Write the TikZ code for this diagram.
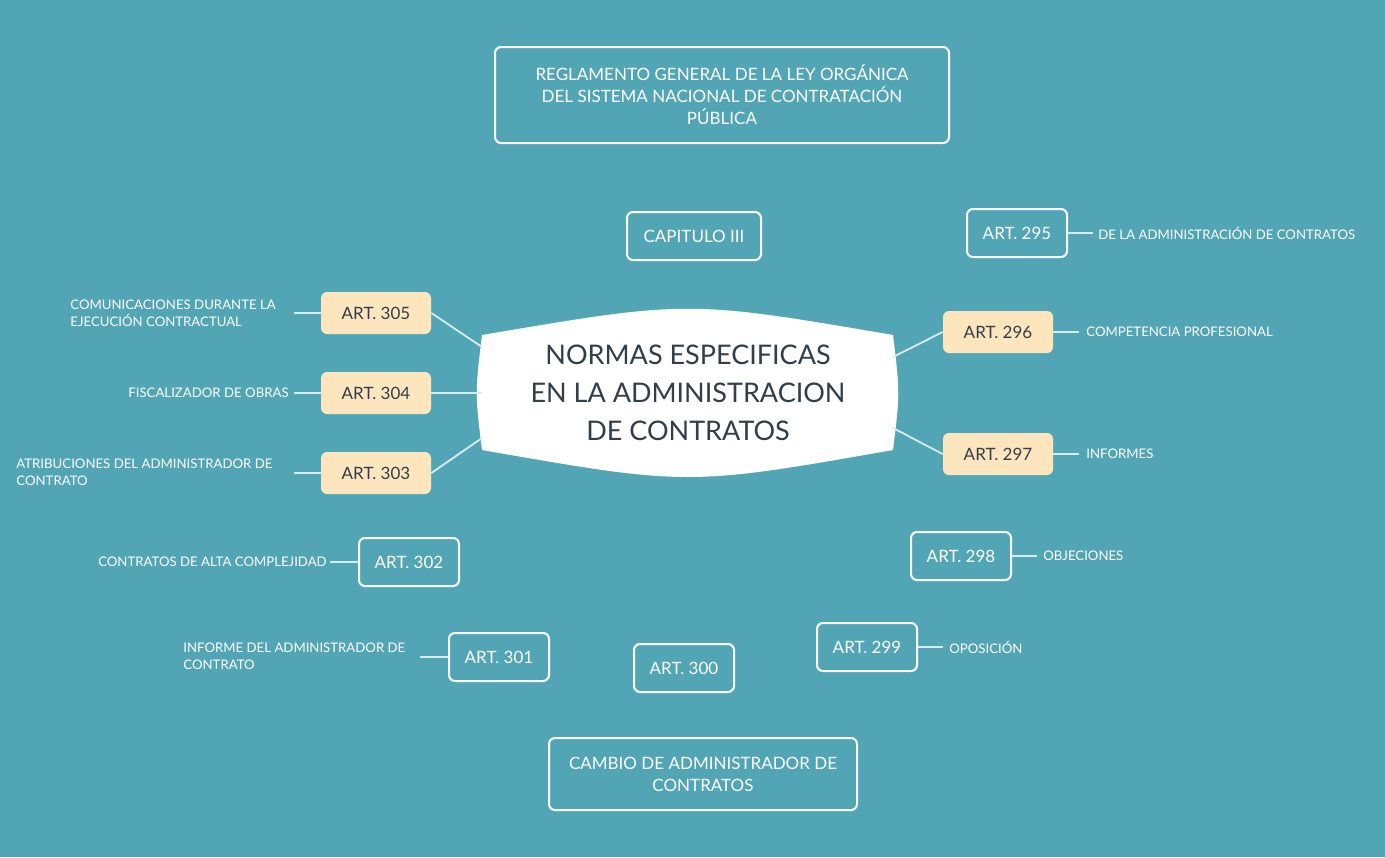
\documentclass[tikz,border=0pt]{standalone}
\usepackage{fontspec}
\setmainfont{Lato}
\begin{document}
\begin{tikzpicture}[x=0.5pt,y=-0.5pt,
  bg/.style={},
  ob/.style={draw=white,line width=1pt,rounded corners=3pt,text=white,minimum width=100\pgflinewidth,font=\fontsize{8.5}{10}\selectfont,align=center},
  fb/.style={fill=peach,rounded corners=3pt,text=dark,minimum width=55pt,minimum height=21pt,font=\fontsize{8.5}{10}\selectfont},
  lb/.style={text=white,font=\fontsize{6.6}{8.5}\selectfont,align=left,inner sep=0pt},
  ln/.style={draw=white!85!teal,line width=0.9pt}]
\definecolor{bgc}{HTML}{52A5B5}
\definecolor{peach}{HTML}{FDE5BE}
\definecolor{dark}{HTML}{333E48}
\fill[bgc] (0,0) rectangle (1385,857);
\useasboundingbox (0,0) rectangle (1385,857);
% center
\fill[white] (482,335) .. controls (688,300) .. (893,335) .. controls (900,393) .. (893,450) .. controls (688,486) .. (482,450) .. controls (475,393) .. (482,335) -- cycle;
\node[text=dark,align=center,font=\fontsize{13.5}{19}\selectfont] (c) at (688,393) {NORMAS ESPECIFICAS\\EN LA ADMINISTRACION\\DE CONTRATOS};
\coordinate (c296) at (893,357); \coordinate (c297) at (893,428);
\coordinate (c303) at (482,438); \coordinate (c304) at (482,393); \coordinate (c305) at (482,347);
\node[ob,minimum width=227pt,minimum height=48pt,font=\fontsize{8.5}{11}\selectfont] (t) at (722,95) {REGLAMENTO GENERAL DE LA LEY ORGÁNICA\\DEL SISTEMA NACIONAL DE CONTRATACIÓN\\PÚBLICA};
\node[ob,minimum width=67pt,minimum height=24pt] (cap) at (694,236) {CAPITULO III};
\node[ob,minimum width=154pt,minimum height=36pt,font=\fontsize{8.5}{11}\selectfont] (cam) at (703,774) {CAMBIO DE ADMINISTRADOR DE\\CONTRATOS};
\foreach \n/\x/\y in {295/1017/233,298/961/556,299/867/647,300/684/668,301/499/657,302/409/562}
  \node[ob,minimum width=50pt,minimum height=24pt] (a\n) at (\x,\y) {ART. \n};
\foreach \n/\x/\y in {296/998/332,297/998/454,303/376/473,304/376/393,305/376/313}
  \node[fb] (a\n) at (\x,\y) {ART. \n};
% right labels
\node[lb,anchor=west] (l295) at (1098,233) {DE LA ADMINISTRACIÓN DE CONTRATOS};
\node[lb,anchor=west] (l296) at (1086,332) {COMPETENCIA PROFESIONAL};
\node[lb,anchor=west] (l297) at (1086,454) {INFORMES};
\node[lb,anchor=west] (l298) at (1043,556) {OBJECIONES};
\node[lb,anchor=west] (l299) at (949,647) {OPOSICIÓN};
% left labels
\node[lb,anchor=west] (l301) at (183,656) {INFORME DEL ADMINISTRADOR DE\\CONTRATO};
\node[lb,anchor=east] (l302) at (327,562) {CONTRATOS DE ALTA COMPLEJIDAD};
\node[lb,anchor=west] (l303) at (16,472) {ATRIBUCIONES DEL ADMINISTRADOR DE\\CONTRATO};
\node[lb,anchor=east] (l304) at (289,393) {FISCALIZADOR DE OBRAS};
\node[lb,anchor=west] (l305) at (70,313) {COMUNICACIONES DURANTE LA\\EJECUCIÓN CONTRACTUAL};
% lines
\draw[ln] (a295.east) -- ++(25,0) coordinate (e295);
\draw[ln] (a296.east) -- ++(26,0);
\draw[ln] (a297.east) -- ++(26,0);
\draw[ln] (a298.east) -- ++(25,0);
\draw[ln] (a299.east) -- ++(25,0);
\draw[ln] (a301.west) -- ++(-28,0);
\draw[ln] (a302.west) -- ++(-28,0);
\draw[ln] (a303.west) -- ++(-27,0);
\draw[ln] (a304.west) -- ++(-27,0);
\draw[ln] (a305.west) -- ++(-27,0);
\draw[ln] (c296) -- (a296.west);
\draw[ln] (c297) -- (a297.west);
\draw[ln] (c303) -- (a303.east);
\draw[ln] (c304) -- (a304.east);
\draw[ln] (c305) -- (a305.east);
\end{tikzpicture}
\end{document}
